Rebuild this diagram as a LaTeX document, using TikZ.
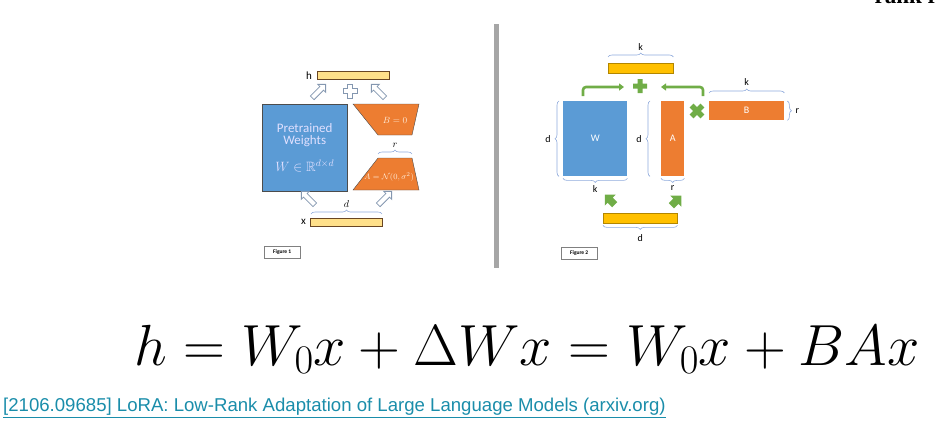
\RequirePackage{fix-cm}
\documentclass[tikz,border=0pt]{standalone}
\usepackage{amsmath,amssymb}
\usepackage{fontspec}
\setmainfont{Carlito}
\newfontfamily\linkfont{Liberation Sans}
\newfontfamily\headfont{Liberation Serif}
\usetikzlibrary{shapes.arrows, arrows.meta, decorations.pathreplacing, positioning}

\definecolor{wblue}{HTML}{5B9BD5}
\definecolor{lorange}{HTML}{ED7D31}
\definecolor{gold}{HTML}{FFC000}
\definecolor{paleyellow}{HTML}{FFE08A}
\definecolor{lgreen}{HTML}{70AD47}
\definecolor{braceblue}{HTML}{8FAADC}
\definecolor{arrowgrey}{HTML}{8497B0}
\definecolor{sepgrey}{HTML}{A6A6A6}
\definecolor{linkteal}{HTML}{1A8DAA}

\tikzset{
  plussign/.pic={
    \path[pic actions] (-2.5,-7) -- (2.5,-7) -- (2.5,-2.5) -- (7,-2.5) -- (7,2.5) -- (2.5,2.5)
      -- (2.5,7) -- (-2.5,7) -- (-2.5,2.5) -- (-7,2.5) -- (-7,-2.5) -- (-2.5,-2.5) -- cycle;
  }
}

\begin{document}
\begin{tikzpicture}[x=1pt, y=-1pt,
    lbl/.style={inner sep=0pt, font=\fontsize{11}{12}\selectfont},
    smalllbl/.style={inner sep=0pt, font=\fontsize{10}{11}\selectfont},
    paleybar/.style={rectangle, draw=black!45!brown, fill=paleyellow, inner sep=0pt, anchor=north west},
    goldbar/.style={rectangle, draw=gold!70!black, fill=gold, inner sep=0pt, anchor=north west},
    wbox/.style={rectangle, draw=black!70, fill=wblue, text=white!88!blue, align=center, inner sep=0pt, anchor=north west},
    matbox/.style={rectangle, fill=#1, text=white, inner sep=0pt, anchor=north west, font=\fontsize{10}{11}\selectfont},
    otrap/.style={draw=black!70, fill=lorange},
    otext/.style={inner sep=0pt, text=white!85!orange},
    hollow/.style={single arrow, draw=arrowgrey, fill=white, line width=0.8pt, minimum height=19pt, inner sep=2.2pt, single arrow head extend=3pt},
    fatarrow/.style={single arrow, fill=lgreen, minimum height=14pt, inner sep=3.5pt, single arrow head extend=4pt},
    brc/.style={draw=braceblue, line width=0.6pt, decorate, decoration={brace, amplitude=4pt}},
    gbend/.style={draw=lgreen, line width=2.6pt, rounded corners=3pt, -{Triangle[length=5pt, width=7pt]}},
    figlbl/.style={rectangle, draw=black!50, inner sep=0pt, minimum width=36pt, minimum height=12pt, anchor=north west, font=\fontsize{5.5}{6}\selectfont\bfseries},
    sep/.style={draw=sepgrey, line width=5pt}
  ]
  \useasboundingbox (0,0) rectangle (949,426);

  % partly visible heading at the top edge
  \begin{scope}
    \clip (0,0) rectangle (949,426);
    \node[anchor=base east, inner sep=0pt] (rankr) at (938,3) {\headfont\bfseries\fontsize{23}{25}\selectfont rank r};
  \end{scope}

  % Figure 1
  \node[paleybar, minimum width=72pt, minimum height=8pt] (hbar) at (317,71) {};
  \node[lbl, left=5pt of hbar] (hlbl) {h};
  \node[hollow, rotate=45] (up1) at (318,92) {};
  \pic[draw=arrowgrey, fill=white, line width=0.8pt] (hplus) at (350,91) {plussign};
  \node[hollow, rotate=135] (up2) at (379,92) {};

  \node[wbox, minimum width=85pt, minimum height=87pt] (pw) at (262,104)
    {\fontsize{13}{15}\selectfont Pretrained\\ \fontsize{13}{15}\selectfont Weights\\[13pt] \fontsize{13.5}{15}\selectfont$W \in \mathbb{R}^{d\times d}$};

  \draw[otrap] (353,104) -- (419,104) -- (412,135) -- (378,135) -- cycle;
  \node[otext, font=\fontsize{9}{10}\selectfont] (bzero) at (395,120) {$B = 0$};
  \draw[otrap] (378,158) -- (412,158) -- (419,190) -- (353,190) -- cycle;
  \node[otext, font=\fontsize{8}{10}\selectfont] (anorm) at (389,177) {$A = \mathcal{N}(0,\sigma^2)$};
  \draw[brc] (378,154) -- (412,154) node[midway, above=6pt, smalllbl] (rlbl) {$r$};

  \node[hollow, rotate=135] (dn1) at (309,199) {};
  \node[hollow, rotate=45] (dn2) at (384,199) {};
  \draw[brc] (311,214) -- (382,214) node[midway, above=6pt, smalllbl] (dlbl) {$d$};
  \node[paleybar, minimum width=72pt, minimum height=8pt] (xbar) at (310,218) {};
  \node[lbl, left=4pt of xbar] (xlbl) {x};
  \node[figlbl] (fig1) at (264,246) {Figure 1};

  \draw[sep] (496,24) -- (496,268);

  % Figure 2
  \node[goldbar, minimum width=65pt, minimum height=10pt] (sumbar) at (608,63) {};
  \draw[brc] ([yshift=6pt]sumbar.north west) -- ([yshift=6pt]sumbar.north east) node[midway, above=6pt, smalllbl] (ktop) {k};
  \pic[fill=lgreen] (gplus) at (640,86) {plussign};
  \coordinate (lstart) at (583,96);
  \coordinate (lend) at (624,87);
  \coordinate (rstart) at (703,96);
  \coordinate (rend) at (661,87);
  \draw[gbend] (lstart) |- (lend);
  \draw[gbend] (rstart) |- (rend);

  \node[matbox=wblue, minimum width=64pt, minimum height=75pt] (wmat) at (563,101) {W};
  \node[matbox=lorange, minimum width=23pt, minimum height=75pt] (amat) at (661,101) {A};
  \node[matbox=lorange, minimum width=75pt, minimum height=19pt] (bmat) at (709,101) {B};
  \pic[fill=lgreen, rotate=45, scale=1.1] (gcross) at (697,111) {plussign};

  \draw[brc] ([xshift=-4pt]wmat.south west) -- ([xshift=-4pt]wmat.north west) node[midway, left=8pt, smalllbl] (dw) {d};
  \draw[brc] ([yshift=-2pt]wmat.south east) -- ([yshift=-2pt]wmat.south west) node[midway, below=7pt, smalllbl] (kw) {k};
  \draw[brc] ([xshift=-11pt]amat.south west) -- ([xshift=-11pt]amat.north west) node[midway, left=8pt, smalllbl] (da) {d};
  \draw[brc] ([yshift=-2pt]amat.south east) -- ([yshift=-2pt]amat.south west) node[midway, below=7pt, smalllbl] (ra) {r};
  \draw[brc] ([yshift=8pt]bmat.north west) -- ([yshift=8pt]bmat.north east) node[midway, above=7pt, smalllbl] (kb) {k};
  \draw[brc] ([xshift=3pt]bmat.north east) -- ([xshift=3pt]bmat.south east) node[midway, right=8pt, smalllbl] (rb) {r};

  \node[fatarrow, rotate=135] (ga1) at (611,201) {};
  \node[fatarrow, rotate=45] (ga2) at (675,202) {};
  \node[goldbar, minimum width=74pt, minimum height=10pt] (inbar) at (603,213) {};
  \draw[brc] ([yshift=-2pt]inbar.south east) -- ([yshift=-2pt]inbar.south west) node[midway, below=9pt, smalllbl] (dx) {d};
  \node[figlbl] (fig2) at (561,247) {Figure 2};

  % formula and link
  \node[anchor=base, inner sep=0pt] (formula) at (527,365) {\fontsize{58}{62}\selectfont $h = W_0x + \Delta W x = W_0x + BAx$};
  \node[anchor=base west, inner sep=0pt, text=linkteal] (link) at (3,411)
    {\linkfont\fontsize{18.6}{20}\selectfont\underline{[2106.09685] LoRA: Low-Rank Adaptation of Large Language Models (arxiv.org)}};
\end{tikzpicture}
\end{document}
